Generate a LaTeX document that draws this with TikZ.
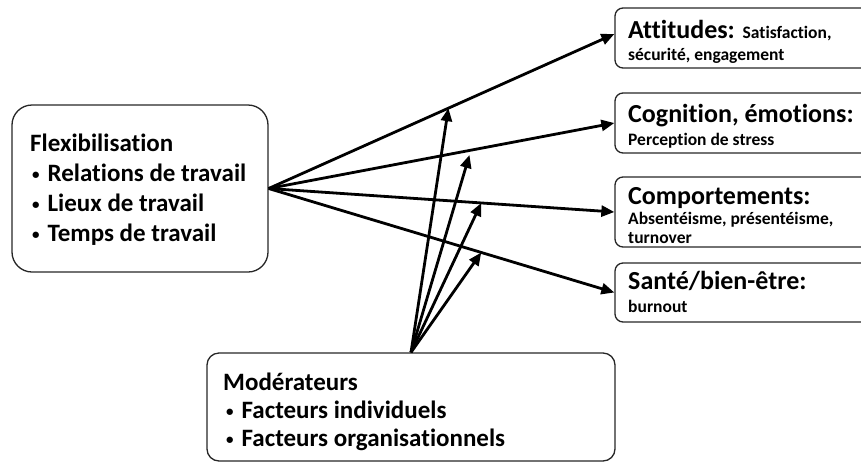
\documentclass[tikz,border=0pt]{standalone}
\usepackage{fontspec}
\setmainfont{Carlito}[Ligatures=NoCommon]
\usetikzlibrary{arrows.meta,calc}
\newcommand{\blt}{{\fontsize{15}{15}\selectfont\raisebox{1.5pt}{\textbullet}}\hspace{8pt}}
\begin{document}
\begin{tikzpicture}[x=1pt,y=-1pt,
  box/.style={draw=black!85,line width=1.3pt,rounded corners=#1,inner sep=0pt},
  big/.style={inner sep=0pt,anchor=base west,font=\fontsize{25}{30}\selectfont\bfseries},
  head/.style={inner sep=0pt,anchor=base west,font=\fontsize{26}{31}\selectfont\bfseries},
  small/.style={inner sep=0pt,anchor=base west,font=\fontsize{17.5}{21}\selectfont\bfseries},
  arr/.style={line width=2.8pt,-{Triangle[length=13pt,width=11pt]}},
]
\useasboundingbox (0,0) rectangle (861,464);

% boxes
\node[box=20pt,minimum width=256pt,minimum height=167pt] (flex) at (140,188.5) {};
\node[box=8pt,minimum width=262pt,minimum height=60pt] (att) at (746,38) {};
\node[box=8pt,minimum width=262pt,minimum height=60pt] (cog) at (746,123) {};
\node[box=8pt,minimum width=262pt,minimum height=70pt] (comp) at (746,212) {};
\node[box=8pt,minimum width=262pt,minimum height=59pt] (sante) at (746,292.5) {};
\node[box=12pt,minimum width=408pt,minimum height=108pt] (mod) at (411,407) {};

% texts
\node[big] (f0) at (30,151) {Flexibilisation};
\node[big] (f1) at (32,181) {\blt Relations de travail};
\node[big] (f2) at (32,211) {\blt Lieux de travail};
\node[big] (f3) at (32,241) {\blt Temps de travail};

\node[head] (a0) at (628,38) {Attitudes: {\fontsize{17.5}{21}\selectfont Satisfaction,}};
\node[small] (a1) at (628,60) {sécurité, engagement};
\node[head] (c0) at (628,122) {Cognition, émotions:};
\node[small] (c1) at (628,145) {Perception de stress};
\node[head] (p0) at (628,204) {Comportements:};
\node[small] (p1) at (628,224) {Absentéisme, présentéisme,};
\node[small] (p2) at (628,243) {turnover};
\node[head] (s0) at (628,289) {Santé/bien-être:};
\node[small] (s1) at (628,312) {burnout};

\node[big] (m0) at (223,390) {Modérateurs};
\node[big] (m1) at (226,418) {\blt Facteurs individuels};
\node[big] (m2) at (226,446) {\blt Facteurs organisationnels};

% main arrows
\draw[arr] (flex.east) -- ([yshift=4pt]att.west);
\draw[arr] (flex.east) -- (cog.west);
\draw[arr] (flex.east) -- (comp.west);
\draw[arr] (flex.east) -- (sante.west);

% moderator arrows
\coordinate (q1) at ($(flex.east)!0.52!([yshift=4pt]att.west)$);
\coordinate (q2) at ($(flex.east)!0.585!(cog.west)$);
\coordinate (q3) at ($(flex.east)!0.615!(comp.west)$);
\coordinate (q4) at ($(flex.east)!0.615!(sante.west)$);
\draw[arr] (mod.north) -- (q1);
\draw[arr,shorten >=5pt] (mod.north) -- (q2);
\draw[arr] (mod.north) -- (q3);
\draw[arr] (mod.north) -- (q4);
\end{tikzpicture}
\end{document}
